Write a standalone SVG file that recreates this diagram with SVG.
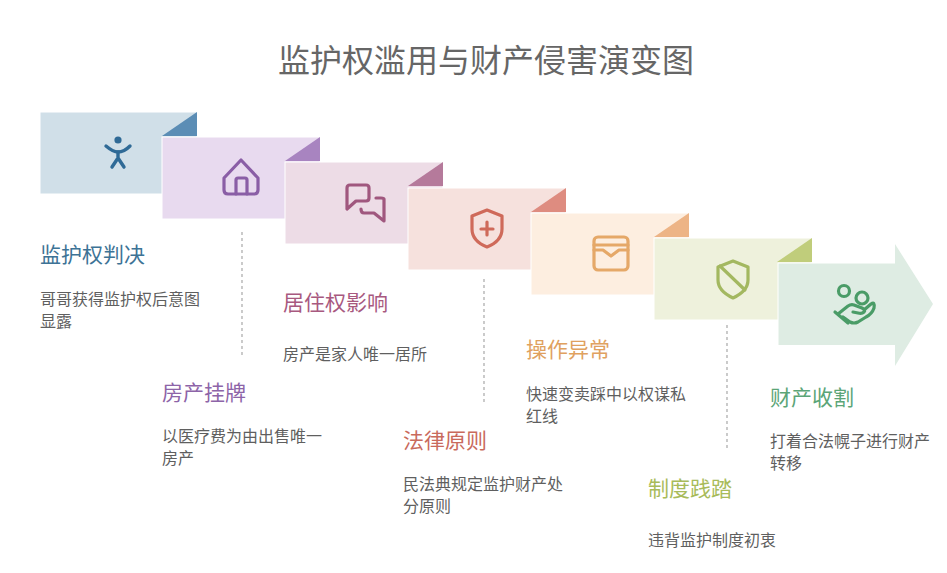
<svg xmlns="http://www.w3.org/2000/svg" width="947" height="573" viewBox="0 0 947 573">
<style>
text{font-family:"Noto Sans CJK SC","Liberation Sans",sans-serif}
.title{font-size:32px;fill:#666}
.h{font-size:21px}
.d{font-size:16px;fill:#5f5f5f}
.card{stroke:#fff;stroke-width:1}
.ic{fill:none;stroke-width:3.2;stroke-linecap:round;stroke-linejoin:round}
.dash{stroke:#a8a8a8;stroke-width:1.2;stroke-dasharray:3 3;fill:none}
</style>
<rect width="947" height="573" fill="#fff"/>
<text class="title" x="486" y="72" text-anchor="middle">监护权滥用与财产侵害演变图</text>
<g id="connectors">
<line class="dash" x1="242" y1="232" x2="242" y2="356"/>
<line class="dash" x1="484" y1="279" x2="484" y2="403"/>
<line class="dash" x1="727" y1="325" x2="727" y2="450"/>
</g>
<g id="node1">
<rect class="card" x="40" y="112" width="157" height="82" fill="#d0dfe8"/>
<path d="M197 112L162 136H197Z" fill="#5b8db5"/>
<g fill="none" stroke="#2f6a96" stroke-width="3.4" stroke-linecap="round" stroke-linejoin="round">
<path d="M106 146Q113 152 118 152Q124 152 130 146"/><path d="M118 152V158L112 167M118 158L124 167"/>
</g>
<circle cx="118" cy="140" r="3.6" fill="#2f6a96"/>
<text class="h" x="40" y="262" fill="#3d7396">监护权判决</text>
<text class="d" x="40" y="304.5">哥哥获得监护权后意图<tspan x="40" dy="22">显露</tspan></text>
</g>
<g id="node2">
<rect class="card" x="162" y="137" width="158" height="82" fill="#e8daef"/>
<path d="M320 137L285 161H320Z" fill="#a884c0"/>
<g class="ic" stroke="#8a5ea6"><path d="M224 178L241 160L258 178V190Q258 194 254 194H228Q224 194 224 190Z"/><path d="M236 194V180Q236 178 238 178H245Q247 178 247 180V194"/></g>
<text class="h" x="162" y="400" fill="#8d64a8">房产挂牌</text>
<text class="d" x="162" y="441.5">以医疗费为由出售唯一<tspan x="162" dy="22">房产</tspan></text>
</g>
<g id="node3">
<rect class="card" x="285" y="162" width="158" height="82" fill="#eddce6"/>
<path d="M443 162L408 186H443Z" fill="#b57a9b"/>
<g class="ic" stroke="#a0577e"><path d="M347 209V188Q347 185 350 185H366Q369 185 369 188V198Q369 201 366 201H356Z"/><path d="M376 198H381Q384 198 384 199V221L374 213H364Q361 213 361 209"/></g>
<text class="h" x="283" y="310" fill="#a8597f">居住权影响</text>
<text class="d" x="283" y="360">房产是家人唯一居所</text>
</g>
<g id="node4">
<rect class="card" x="408" y="188" width="158" height="82" fill="#f6e1dd"/>
<path d="M566 188L531 212H566Z" fill="#de8c80"/>
<g class="ic" stroke="#cf6a5a"><path d="M487 210L502 216V229Q502 241 487 247Q472 241 472 229V216Z"/><path d="M487 222V235M481 229H493"/></g>
<text class="h" x="403" y="448" fill="#c96a5c">法律原则</text>
<text class="d" x="403" y="490">民法典规定监护财产处<tspan x="403" dy="22">分原则</tspan></text>
</g>
<g id="node5">
<rect class="card" x="531" y="213" width="158" height="82" fill="#fdeee0"/>
<path d="M689 213L654 237H689Z" fill="#edb486"/>
<g class="ic" stroke="#e5a868"><rect x="594" y="237" width="34" height="33" rx="4"/><path d="M594 245H628M594 250H603L611 256L619 250H628"/></g>
<text class="h" x="526" y="357" fill="#e0a15f">操作异常</text>
<text class="d" x="526" y="399.5">快速变卖踩中以权谋私<tspan x="526" dy="22">红线</tspan></text>
</g>
<g id="node6">
<rect class="card" x="654" y="238" width="158" height="82" fill="#eef1dc"/>
<path d="M812 238L777 262H812Z" fill="#c0cd7b"/>
<g class="ic" stroke="#a3b860"><path d="M733 261L748 267V280Q748 291 733 298Q718 291 718 280V267Z"/><path d="M720 266L745 290"/></g>
<text class="h" x="648" y="496" fill="#a8bb5a">制度践踏</text>
<text class="d" x="648" y="546">违背监护制度初衷</text>
</g>
<g id="node7">
<path d="M778 263H895V244L933 304L895 366V345H778Z" fill="#deece3"/>
<path d="M778 263H895M778 263V345" stroke="#fff" fill="none"/>
<g class="ic" stroke="#4a9c67"><circle cx="844" cy="291" r="5.5"/><circle cx="862" cy="298" r="6"/><path d="M838 314L848 306Q851 304 854 305L862 308Q866 310 864 312Q862 314 858 313L853 312M864 310L871 304Q875 301 874 308Q872 314 866 317L858 322Q854 324 850 322L843 317"/><path d="M835 312L848 323"/></g>
<text class="h" x="770" y="405" fill="#5ba577">财产收割</text>
<text class="d" x="770" y="447">打着合法幌子进行财产<tspan x="770" dy="22">转移</tspan></text>
</g>
</svg>
